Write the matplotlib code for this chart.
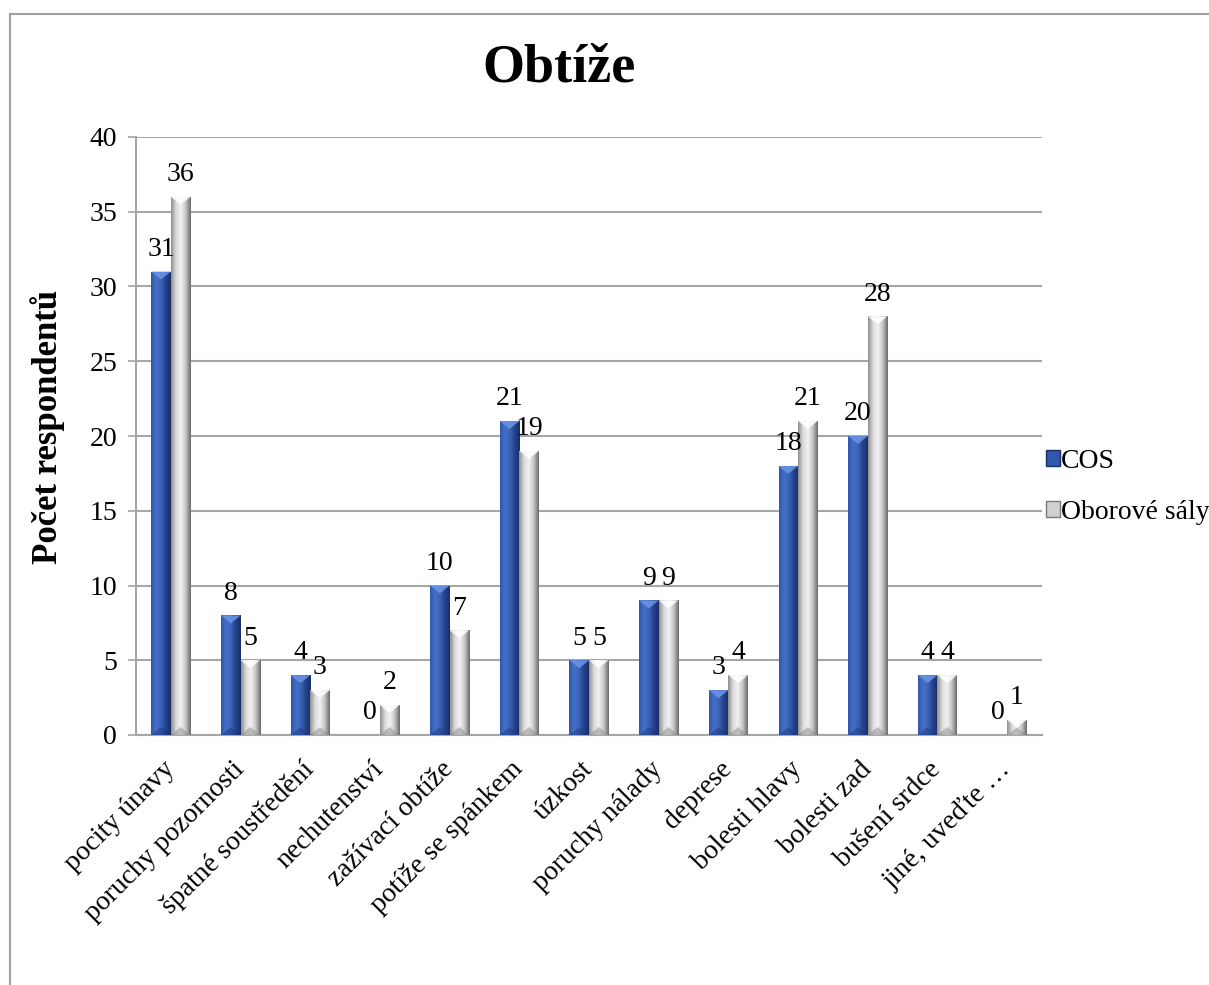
import numpy as np
import matplotlib.pyplot as plt
from matplotlib.colors import LinearSegmentedColormap
from matplotlib.patches import Polygon, Patch
from matplotlib.transforms import ScaledTranslation
from matplotlib.lines import Line2D

plt.rcParams["font.family"] = ["Liberation Serif", "DejaVu Serif"]

categories = [
    "pocity únavy", "poruchy pozornosti", "špatné soustředění", "nechutenství",
    "zažívací obtíže", "potíže se spánkem", "úzkost", "poruchy nálady",
    "deprese", "bolesti hlavy", "bolesti zad", "bušení srdce", "jiné, uveďte …",
]
cos = [31, 8, 4, 0, 10, 21, 5, 9, 3, 18, 20, 4, 0]
obor = [36, 5, 3, 2, 7, 19, 5, 9, 4, 21, 28, 4, 1]
series_names = ["COS", "Oborové sály"]

blue_cmap = LinearSegmentedColormap.from_list(
    "blue", ["#2f58ad", "#4570c6", "#3b63b8", "#24418a", "#1a2f68"])
grey_cmap = LinearSegmentedColormap.from_list(
    "grey", ["#8e8e8e", "#dcdcdc", "#f2f2f2", "#c4c4c4", "#6a6a6a"])
tops = ["#6b96e6", "#ffffff"]
bottoms = ["#1f3a7e", "#8a8a8a"]

fig = plt.figure(figsize=(12.09, 9.85), dpi=100)
ax = fig.add_axes([136 / 1209, 1 - 735 / 985, 906 / 1209, 598 / 985])

x = np.arange(len(categories))
w = 0.28
ax.set_xlim(-0.5, len(categories) - 0.5)
ax.set_ylim(0, 40)

# bevel depth in data units (~8 px)
px_per_unit = ax.get_window_extent().height / 40
depth = 8 / px_per_unit
grad = np.linspace(0, 1, 64).reshape(1, -1)

for k, (vals, cmap) in enumerate([(cos, blue_cmap), (obor, grey_cmap)]):
    xs = x - w / 2 + k * w
    bars = ax.bar(xs, vals, width=w, color="none", zorder=3)
    for b, v in zip(bars, vals):
        if v <= 0:
            continue
        x0, x1 = b.get_x(), b.get_x() + b.get_width()
        xc = (x0 + x1) / 2
        im = ax.imshow(grad, cmap=cmap, extent=[x0, x1, 0, v], aspect="auto",
                       zorder=3, interpolation="bilinear")
        im.set_clip_path(b)
        d = min(depth, v / 2)
        ax.add_patch(Polygon([(x0, v), (x1, v), (xc, v - d)], closed=True,
                             facecolor=tops[k], edgecolor="none", alpha=0.85, zorder=4))
        ax.add_patch(Polygon([(x0, 0), (x1, 0), (xc, d)], closed=True,
                             facecolor=bottoms[k], edgecolor="none", alpha=0.5, zorder=4))
    for xi, v in zip(xs, vals):
        ax.annotate(str(v), (xi, v), xytext=(0, 7), textcoords="offset points",
                    ha="center", va="bottom", fontsize=20, zorder=5)

ax.set_xlim(-0.5, len(categories) - 0.5)
ax.set_ylim(0, 40)
ax.set_yticks(np.arange(0, 41, 5))
ax.yaxis.grid(True, color="#a6a6a6", linewidth=1.5, zorder=0)
ax.set_axisbelow(True)
for s in ["top", "right"]:
    ax.spines[s].set_visible(False)
ax.spines["left"].set_color("#a6a6a6")
ax.spines["left"].set_linewidth(1.5)
ax.spines["bottom"].set_color("#a6a6a6")
ax.spines["bottom"].set_linewidth(1.5)
ax.tick_params(axis="y", length=5.5, width=1.2, color="#a6a6a6", labelsize=20, pad=8)
ax.tick_params(axis="x", length=0, labelsize=20, pad=22)

ax.set_xticks(x)
ax.set_xticklabels(categories, rotation=45, ha="right", va="center",
                   rotation_mode="anchor")
offset = ScaledTranslation(0, 0, fig.dpi_scale_trans)
for lab in ax.get_xticklabels():
    lab.set_transform(lab.get_transform() + offset)

ax.set_ylabel("Počet respondentů", fontsize=25, fontweight="bold")
ax.yaxis.set_label_coords(-0.078, 0.515)

fig.text(559 / 1209, 1 - 68 / 985, "Obtíže", fontsize=39, fontweight="bold",
         ha="center", va="center")

handles = [Patch(facecolor="#2f58ad", edgecolor="#1a2f68"),
           Patch(facecolor="#d0d0d0", edgecolor="#7a7a7a")]
fig.legend(handles, series_names, loc="center left",
           bbox_to_anchor=(1046 / 1209, 1 - 487 / 985), frameon=False,
           fontsize=20, handlelength=0.5, handleheight=0.5,
           handletextpad=0.05, labelspacing=0.95, borderaxespad=0,
           borderpad=0)

# outer chart border
fig.add_artist(Line2D([10 / 1209, 10 / 1209], [0, 1 - 14 / 985],
                      transform=fig.transFigure, color="#a0a0a0", linewidth=1.5))
fig.add_artist(Line2D([10 / 1209, 1], [1 - 14 / 985, 1 - 14 / 985],
                      transform=fig.transFigure, color="#a0a0a0", linewidth=1.5))

fig.savefig("out.png", dpi=100)
